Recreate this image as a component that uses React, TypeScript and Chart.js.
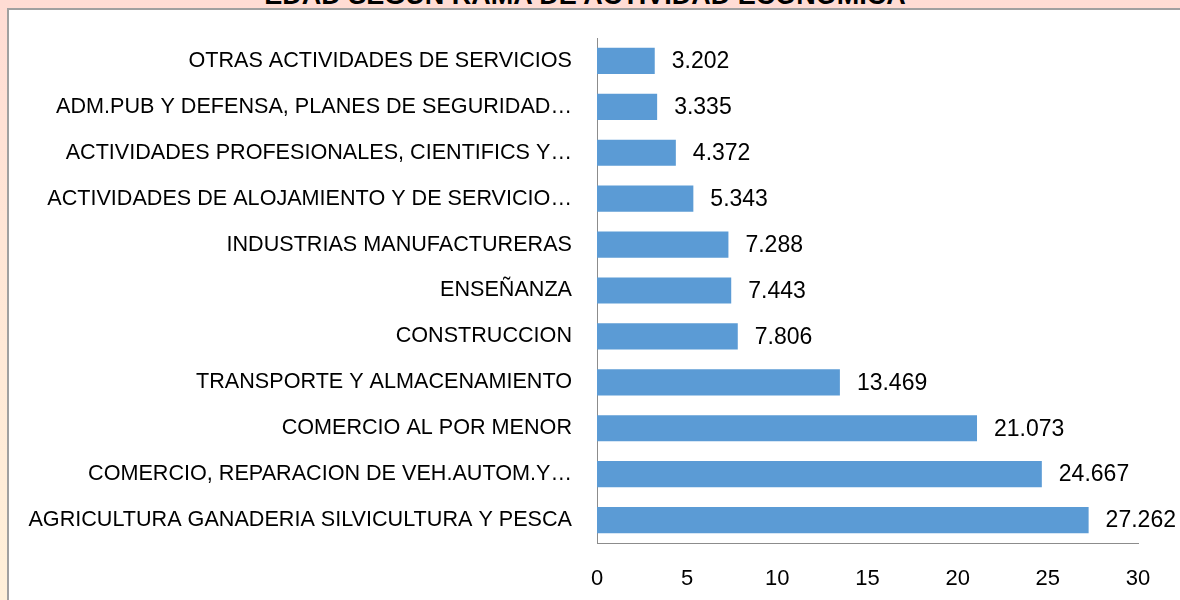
import React, { useEffect, useRef } from "react";
import { Chart, registerables } from "chart.js";

Chart.register(...registerables);

const categories: string[] = [
  "OTRAS ACTIVIDADES DE SERVICIOS",
  "ADM.PUB Y DEFENSA, PLANES DE SEGURIDAD…",
  "ACTIVIDADES PROFESIONALES, CIENTIFICS Y…",
  "ACTIVIDADES DE ALOJAMIENTO Y DE SERVICIO…",
  "INDUSTRIAS MANUFACTURERAS",
  "ENSEÑANZA",
  "CONSTRUCCION",
  "TRANSPORTE Y ALMACENAMIENTO",
  "COMERCIO AL POR MENOR",
  "COMERCIO, REPARACION DE VEH.AUTOM.Y…",
  "AGRICULTURA GANADERIA SILVICULTURA Y PESCA",
];

const values: number[] = [3.202, 3.335, 4.372, 5.343, 7.288, 7.443, 7.806, 13.469, 21.073, 24.667, 27.262];

const xTicks: number[] = [0, 5, 10, 15, 20, 25, 30];

const titleText = "EDAD SEGÚN RAMA DE ACTIVIDAD ECONÓMICA";

const FONT = "'Liberation Sans', Arial, sans-serif";

const valueLabels = {
  id: "valueLabels",
  afterDatasetsDraw(chart: any) {
    const ctx = chart.ctx;
    const meta = chart.getDatasetMeta(0);
    ctx.save();
    ctx.font = `23px ${FONT}`;
    ctx.fillStyle = "#000";
    ctx.textAlign = "left";
    ctx.textBaseline = "middle";
    meta.data.forEach((bar: any, i: number) => {
      const v = chart.data.datasets[0].data[i] as number;
      ctx.fillText(v.toFixed(3), bar.x + 17, bar.y + 1);
    });
    ctx.restore();
  },
};

export default function App() {
  const ref = useRef<HTMLCanvasElement | null>(null);

  useEffect(() => {
    if (!ref.current) return;
    const chart = new Chart(ref.current, {
      type: "bar",
      data: {
        labels: categories,
        datasets: [
          {
            data: values,
            backgroundColor: "#5B9BD5",
            borderWidth: 0,
            barPercentage: 0.57,
            categoryPercentage: 1,
          },
        ],
      },
      options: {
        indexAxis: "y",
        animation: false,
        responsive: false,
        maintainAspectRatio: false,
        layout: { padding: { top: 28, right: 42, left: 0, bottom: 0 } },
        plugins: {
          legend: { display: false },
          tooltip: { enabled: false },
          title: { display: false },
        },
        scales: {
          x: {
            min: 0,
            max: 30,
            afterFit: (s: any) => {
              s.height = 57;
              s.paddingLeft = 0;
              s.paddingRight = 0;
            },
            afterBuildTicks: (s: any) => {
              s.ticks = xTicks.map((v) => ({ value: v }));
            },
            grid: { display: false, drawTicks: false },
            border: { display: true, color: "#8C8C8C", width: 1 },
            ticks: {
              padding: 23,
              color: "#000",
              font: { family: FONT, size: 22 },
            },
          },
          y: {
            afterFit: (s: any) => {
              s.width = 588;
              s.paddingTop = 0;
              s.paddingBottom = 0;
            },
            grid: { display: false, drawTicks: false },
            border: { display: true, color: "#8C8C8C", width: 1 },
            ticks: {
              padding: 25,
              color: "#000",
              autoSkip: false,
              font: { family: FONT, size: 21.6 },
            },
          },
        },
      },
      plugins: [valueLabels],
    });
    return () => chart.destroy();
  }, []);

  return (
    <div
      style={{
        position: "fixed",
        left: 0,
        top: 0,
        width: 1180,
        height: 600,
        overflow: "hidden",
        background: "linear-gradient(to bottom, #FFDCD4 0%, #FFE6D6 40%, #FFF0D9 100%)",
      }}
    >
      <div
        style={{
          position: "absolute",
          left: 0,
          top: -18,
          width: 1170,
          textAlign: "center",
          fontFamily: FONT,
          fontWeight: "bold",
          fontSize: 27,
          lineHeight: "27px",
          color: "#000",
          whiteSpace: "nowrap",
        }}
      >
        {titleText}
      </div>
      <div
        style={{
          position: "absolute",
          left: 7,
          top: 8,
          width: 1180,
          height: 600,
          background: "#fff",
          borderLeft: "2px solid #A0A0A0",
          borderTop: "2px solid #A0A0A0",
        }}
      >
        <canvas
          ref={ref}
          width={1171}
          height={590}
          style={{ position: "absolute", left: 0, top: 0, width: 1171, height: 590 }}
        />
      </div>
    </div>
  );
}
